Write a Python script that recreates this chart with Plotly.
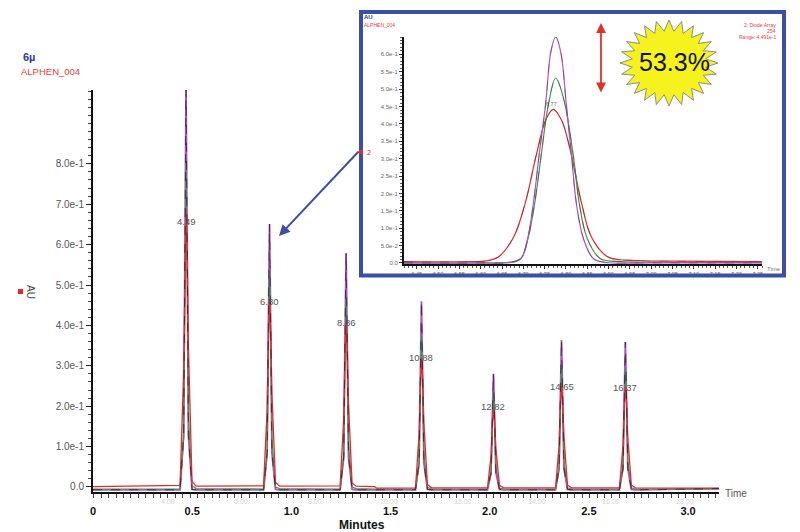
import numpy as np
import plotly.graph_objects as go

W, H = 800, 532
def X(px): return px / W
def Y(py): return 1 - py / H

FONT = "Liberation Sans, Arial, sans-serif"
NARROW = "Liberation Sans Narrow, Arial Narrow, Liberation Sans, Arial, sans-serif"

# ---------------- main chromatogram (x: minutes, y: AU) ----------------
MAIN_X = [0.0,
          0.439, 0.457, 0.463, 0.469, 0.475, 0.481, 0.499, 0.520,
          0.860, 0.878, 0.884, 0.890, 0.896, 0.902, 0.920, 0.941,
          1.246, 1.264, 1.270, 1.276, 1.282, 1.288, 1.306, 1.327,
          1.420, 1.430,
          1.626, 1.644, 1.650, 1.656, 1.662, 1.668, 1.686, 1.707,
          1.989, 2.007, 2.013, 2.019, 2.025, 2.031, 2.049, 2.070,
          2.332, 2.350, 2.356, 2.362, 2.368, 2.374, 2.392, 2.413,
          2.654, 2.672, 2.678, 2.684, 2.690, 2.696, 2.714, 2.735,
          3.156]
PURPLE = [-0.007,
          -0.007, 0.128, 0.590, 0.983, 0.590, 0.128, -0.006, -0.007,
          -0.007, 0.085, 0.391, 0.651, 0.391, 0.085, -0.006, -0.007,
          -0.007, 0.075, 0.347, 0.579, 0.347, 0.075, -0.006, -0.007,
          -0.007, -0.007,
          -0.007, 0.060, 0.276, 0.460, 0.276, 0.060, -0.006, -0.007,
          -0.007, 0.036, 0.168, 0.280, 0.168, 0.036, -0.006, -0.007,
          -0.007, 0.047, 0.218, 0.364, 0.218, 0.047, -0.006, -0.007,
          -0.007, 0.047, 0.215, 0.359, 0.215, 0.047, -0.006, -0.007,
          -0.004]
GREEN = [-0.005,
         -0.005, 0.121, 0.500, 0.806, 0.548, 0.177, 0.003, -0.004,
         -0.005, 0.080, 0.331, 0.534, 0.363, 0.117, 0.000, -0.004,
         -0.005, 0.071, 0.295, 0.475, 0.323, 0.105, 0.000, -0.004,
         -0.005, -0.005,
         -0.005, 0.057, 0.234, 0.377, 0.256, 0.083, -0.001, -0.005,
         -0.005, 0.035, 0.143, 0.230, 0.156, 0.051, -0.003, -0.005,
         -0.005, 0.045, 0.185, 0.298, 0.203, 0.066, -0.002, -0.005,
         -0.005, 0.044, 0.182, 0.294, 0.200, 0.065, -0.002, -0.005,
         -0.005]
RED = [0.001,
       0.004, 0.286, 0.551, 0.687, 0.578, 0.347, 0.014, 0.002,
       0.003, 0.192, 0.367, 0.457, 0.385, 0.232, 0.011, 0.002,
       0.003, 0.171, 0.327, 0.407, 0.343, 0.207, 0.010, 0.002,
       0.001, -0.003,
       -0.002, 0.130, 0.254, 0.318, 0.267, 0.159, 0.006, -0.002,
       -0.002, 0.079, 0.154, 0.193, 0.162, 0.097, 0.004, -0.002,
       -0.002, 0.103, 0.201, 0.251, 0.211, 0.126, 0.005, -0.002,
       -0.002, 0.102, 0.198, 0.248, 0.208, 0.124, 0.005, -0.002,
       -0.003]

PEAK_LABELS = ["4.49", "6.80", "8.86", "10.88", "12.82", "14.65", "16.37"]
PEAK_LABEL_X = [0.469, 0.890, 1.276, 1.656, 2.019, 2.362, 2.684]
PEAK_LABEL_Y = [0.657, 0.459, 0.408, 0.321, 0.199, 0.248, 0.247]

MIN_TICKS = [0, 0.5, 1.0, 1.5, 2.0, 2.5, 3.0]
MIN_TICK_TEXT = ["0", "0.5", "1.0", "1.5", "2.0", "2.5", "3.0"]
AU_TICKS = [0.0, 0.1, 0.2, 0.3, 0.4, 0.5, 0.6, 0.7, 0.8]
AU_TICK_TEXT = ["0.0", "1.0e-1", "2.0e-1", "3.0e-1", "4.0e-1", "5.0e-1",
                "6.0e-1", "7.0e-1", "8.0e-1"]
ORIG_LABELS = ["4.00", "6.00", "8.00", "10.00", "12.00", "14.00", "16.00", "18.00"]
ORIG_LABEL_X = [0.378, 0.746, 1.119, 1.492, 1.866, 2.239, 2.612, 2.985]

# ---------------- inset (zoom on peak 6.80) ----------------
IN_PURPLE_T = [6.42, 6.60, 6.665, 6.694, 6.710, 6.723, 6.737, 6.752, 6.765, 6.776,
               6.788, 6.801, 6.813, 6.825, 6.841, 6.864, 6.890, 7.00, 7.26]
IN_PURPLE_V = [0.0, 0.0, 0.002, 0.013, 0.070, 0.166, 0.310, 0.454, 0.610, 0.650,
               0.605, 0.454, 0.310, 0.166, 0.070, 0.013, 0.002, 0.0, 0.0]
IN_GREEN_T = [6.42, 6.60, 6.675, 6.695, 6.711, 6.726, 6.742, 6.758, 6.776, 6.795,
              6.817, 6.832, 6.850, 6.880, 6.930, 7.00, 7.26]
IN_GREEN_V = [0.0, 0.0, 0.002, 0.013, 0.070, 0.166, 0.310, 0.450, 0.532, 0.470,
              0.310, 0.166, 0.070, 0.013, 0.004, 0.002, 0.001]
IN_RED_T = [6.42, 6.58, 6.613, 6.641, 6.677, 6.704, 6.731, 6.752, 6.770, 6.790,
            6.812, 6.837, 6.860, 6.899, 6.970, 7.05, 7.26]
IN_RED_V = [0.004, 0.004, 0.006, 0.017, 0.074, 0.170, 0.314, 0.410, 0.442, 0.410,
            0.314, 0.170, 0.074, 0.017, 0.007, 0.005, 0.004]

IN_X_TICKS = [6.45, 6.50, 6.55, 6.60, 6.65, 6.70, 6.75, 6.80, 6.85, 6.90, 6.95,
              7.00, 7.05, 7.10, 7.15, 7.20, 7.25]
IN_X_TEXT = ["6.45", "6.50", "6.55", "6.60", "6.65", "6.70", "6.75", "6.80", "6.85",
             "6.90", "6.95", "7.00", "7.05", "7.10", "7.15", "7.20", "7.25"]
IN_Y_TICKS = [0.0, 0.05, 0.10, 0.15, 0.20, 0.25, 0.30, 0.35, 0.40, 0.45, 0.50, 0.55, 0.60]
IN_Y_TEXT = ["0.0", "5.0e-2", "1.0e-1", "1.5e-1", "2.0e-1", "2.5e-1", "3.0e-1",
             "3.5e-1", "4.0e-1", "4.5e-1", "5.0e-1", "5.5e-1", "6.0e-1"]

C_PURPLE = "#b452c8"
C_GREEN = "#3d9a48"
C_RED = "#e8282c"
C_BLACK = "#262626"
C_BLUE = "#3b4fa5"

fig = go.Figure()
# main traces
fig.add_trace(go.Scatter(x=MAIN_X, y=PURPLE, mode="lines", line=dict(color=C_PURPLE, width=1.8)))
fig.add_trace(go.Scatter(x=MAIN_X, y=GREEN, mode="lines", line=dict(color=C_GREEN, width=1.2)))
fig.add_trace(go.Scatter(x=MAIN_X, y=RED, mode="lines", line=dict(color=C_RED, width=1.3)))
fig.add_trace(go.Scatter(x=MAIN_X, y=PURPLE, mode="lines",
                         line=dict(color=C_BLACK, width=1, dash="dash"), opacity=0.8))

# inset traces
for t, v, c in [(IN_RED_T, IN_RED_V, C_RED), (IN_GREEN_T, IN_GREEN_V, C_GREEN),
                (IN_PURPLE_T, IN_PURPLE_V, C_PURPLE)]:
    fig.add_trace(go.Scatter(x=t, y=v, mode="lines", line=dict(color=c, width=1.2, shape="spline"),
                             xaxis="x2", yaxis="y2"))
    fig.add_trace(go.Scatter(x=t, y=v, mode="lines",
                             line=dict(color="#333333", width=0.9, dash="dash", shape="spline"),
                             opacity=0.4, xaxis="x2", yaxis="y2"))

fig.update_layout(
    width=W, height=H, margin=dict(l=0, r=0, t=0, b=0),
    paper_bgcolor="white", plot_bgcolor="rgba(0,0,0,0)", showlegend=False,
    font=dict(family=FONT),
    xaxis=dict(domain=[X(93), X(719)], range=[0, 3.156], anchor="y",
               showline=True, linecolor="#111", linewidth=2, ticks="",
               tickmode="array", tickvals=MIN_TICKS, ticktext=MIN_TICK_TEXT,
               tickfont=dict(family=NARROW, size=11, color="#111", weight="bold"),
               ticklabelstandoff=8, showgrid=False, zeroline=False, automargin=False,
               minor=dict(ticks="outside", ticklen=4, tickcolor="#444", tick0=-0.368,
                          dtick=0.0373, showgrid=False)),
    yaxis=dict(domain=[Y(492), Y(90)], range=[-0.0124, 0.9827], anchor="x",
               showline=True, linecolor="#111", linewidth=2, ticks="outside", ticklen=5,
               tickcolor="#222", tickmode="array", tickvals=AU_TICKS, ticktext=AU_TICK_TEXT,
               tickfont=dict(size=10, color="#555"), showgrid=False, zeroline=False,
               automargin=False,
               minor=dict(ticks="outside", ticklen=3, tickcolor="#444", tick0=0, dtick=0.02,
                          showgrid=False)),
    xaxis2=dict(domain=[X(404), X(762)], range=[6.42, 7.26], anchor="y2",
                showline=True, linecolor="#111", linewidth=2, ticks="outside", ticklen=3,
                tickcolor="#333", tickmode="array", tickvals=IN_X_TICKS, ticktext=IN_X_TEXT,
                tickfont=dict(size=5.5, color="#666"), showgrid=False, zeroline=False,
                automargin=False,
                minor=dict(ticks="outside", ticklen=2, tickcolor="#555", tick0=6.45, dtick=0.01)),
    yaxis2=dict(domain=[Y(264), Y(37)], range=[-0.003, 0.65], anchor="x2",
                showline=True, linecolor="#111", linewidth=2, ticks="outside", ticklen=3,
                tickcolor="#333", tickmode="array", tickvals=IN_Y_TICKS, ticktext=IN_Y_TEXT,
                tickfont=dict(size=6, color="#666"), showgrid=False, zeroline=False,
                automargin=False,
                minor=dict(ticks="outside", ticklen=2, tickcolor="#555", tick0=0, dtick=0.01)),
)

ann = []
for lab, lx, ly in zip(PEAK_LABELS, PEAK_LABEL_X, PEAK_LABEL_Y):
    ann.append(dict(x=lx, y=ly, xref="x", yref="y", text=lab, showarrow=False,
                    font=dict(size=9.5, color="#555"), xanchor="center", yanchor="middle"))
for lab, lx in zip(ORIG_LABELS, ORIG_LABEL_X):
    ann.append(dict(x=lx, y=Y(501), xref="x", yref="paper", text=lab, showarrow=False,
                    font=dict(size=7, color="#d2d2d2"), xanchor="center", yanchor="middle"))

def txt(px, py, s, size, color, xanchor="left", **kw):
    d = dict(x=X(px), y=Y(py), xref="paper", yref="paper", text=s, showarrow=False,
             xanchor=xanchor, yanchor="middle", font=dict(size=size, color=color,
                                                          family=kw.pop("family", FONT),
                                                          weight=kw.pop("weight", "normal")))
    d.update(kw)
    ann.append(d)

txt(21, 57, "6µ", 11, "#2b3a93", weight="bold")
txt(19, 71, "ALPHEN_004", 9.5, "#e8383c")
txt(31, 292, "AU", 10, "#444", xanchor="center", textangle=90)
txt(723, 493, "Time", 10, "#555")
txt(362, 525, "Minutes", 12, "#111", xanchor="center", family=NARROW, weight="bold")
# inset texts
txt(362, 17, "AU", 6, "#2b3a93", weight="bold")
txt(362, 25, "ALPHEN_004", 5, "#e8383c")
txt(778, 25, "2: Diode Array", 5, "#e8383c", xanchor="right")
txt(778, 31, "254", 5, "#e8383c", xanchor="right")
txt(778, 37, "Range: 4.491e-1", 5, "#e8383c", xanchor="right")
txt(765, 269, "Time", 6, "#777")
txt(365, 152, "2", 7, "#b03030")
ann.append(dict(x=6.767, y=0.456, xref="x2", yref="y2", text="6.77", showarrow=False,
                font=dict(size=5.5, color="#666"), xanchor="center", yanchor="middle"))
# arrows
ann.append(dict(x=X(279), y=Y(236), xref="paper", yref="paper", text="", showarrow=True,
                ax=81, ay=-86, arrowhead=2, arrowsize=1.1, arrowwidth=2, arrowcolor=C_BLUE))
ann.append(dict(x=X(601), y=Y(23), xref="paper", yref="paper", text="", showarrow=True,
                ax=0, ay=71, arrowhead=2, startarrowhead=2, arrowside="end+start",
                arrowsize=1.1, startarrowsize=1.1, arrowwidth=1.8, arrowcolor="#e03028"))

# starburst decoration (pixel geometry -> paper coords)
cx, cy, n = 669, 63, 24
k = np.arange(2 * n)
ang = -np.pi / 2 + k * np.pi / n
rx = np.where(k % 2 == 0, 49, 37)
ry = np.where(k % 2 == 0, 43, 32)
pxs = cx + rx * np.cos(ang)
pys = cy + ry * np.sin(ang)
path = "M " + " L ".join(f"{X(a):.5f},{Y(b):.5f}" for a, b in zip(pxs, pys)) + " Z"

shapes = [
    dict(type="rect", xref="paper", yref="paper", x0=X(361), x1=X(784), y0=Y(12), y1=Y(275.5),
         line=dict(color=C_BLUE, width=4), layer="above"),
    dict(type="path", xref="paper", yref="paper", path=path, fillcolor="#f6f21e",
         line=dict(color="#8c8c8c", width=1), layer="above"),
    dict(type="rect", xref="paper", yref="paper", x0=X(18), x1=X(23), y0=Y(294), y1=Y(289),
         fillcolor="#e8282c", line=dict(width=0)),
    dict(type="rect", xref="paper", yref="paper", x0=X(359), x1=X(363), y0=Y(154), y1=Y(150),
         fillcolor="#e8282c", line=dict(width=0), layer="above"),
]
txt(674, 62, "53.3%", 25, "#111", xanchor="center", family=NARROW)

fig.update_layout(annotations=ann, shapes=shapes)
fig.write_html("out.html")
